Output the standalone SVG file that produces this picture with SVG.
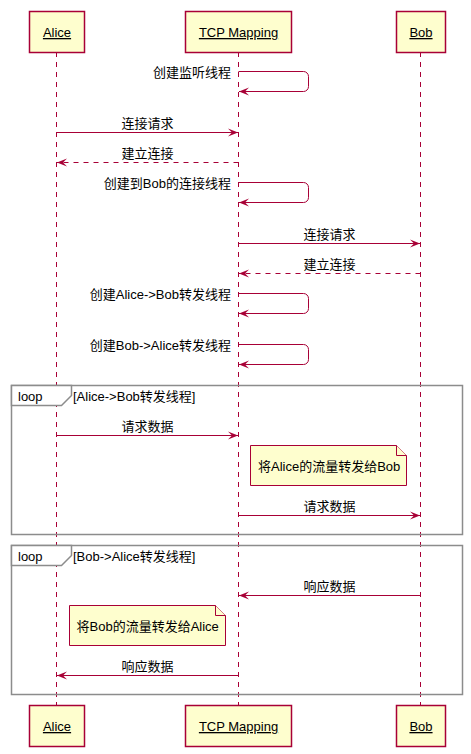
<svg xmlns="http://www.w3.org/2000/svg" width="471" height="754" viewBox="0 0 471 754">
<style>
text{font-family:"Liberation Sans","Noto Sans CJK SC",sans-serif;font-size:13px;fill:#000}
.box{fill:#FEFECE;stroke:#A80036;stroke-width:1.5}
.pt{text-anchor:middle;text-decoration:underline;font-size:13px}
.life{stroke:#A80036;stroke-width:1;stroke-dasharray:5,5;fill:none}
.msg{stroke:#A80036;stroke-width:1;fill:none;marker-end:url(#ah)}
.dash{stroke-dasharray:5,5}
.mid{text-anchor:middle}
.end{text-anchor:end}
.frame{fill:none;stroke:#8C8C8C;stroke-width:1.5}
.tab{fill:#FFFFFF;stroke:#8C8C8C;stroke-width:1.5}
.note{fill:#FEFECE;stroke:#A80036;stroke-width:1}
</style>
<defs>
<marker id="ah" markerUnits="userSpaceOnUse" markerWidth="11" markerHeight="9" refX="10" refY="4" orient="auto" overflow="visible">
<path d="M0,0 L10,4 L0,8 L4,4 Z" fill="#A80036"/>
</marker>
</defs>
<g id="lifelines">
<line class="life" x1="56.5" y1="52" x2="56.5" y2="705"/>
<line class="life" x1="238.5" y1="52" x2="238.5" y2="705"/>
<line class="life" x1="420.5" y1="52" x2="420.5" y2="705"/>
</g>
<g id="loop1">
<rect class="frame" x="11.5" y="385.5" width="451" height="149"/>
<path class="tab" d="M11.5,385.5 H71.5 V395.5 L61.5,405.5 H11.5 Z"/>
<text x="18" y="400.5">loop</text>
<text x="73" y="400.5">[Alice-&gt;Bob转发线程]</text>
</g>
<g id="loop2">
<rect class="frame" x="11.5" y="545.5" width="451" height="149"/>
<path class="tab" d="M11.5,545.5 H71.5 V555.5 L61.5,565.5 H11.5 Z"/>
<text x="18" y="560.5">loop</text>
<text x="73" y="560.5">[Bob-&gt;Alice转发线程]</text>
</g>
<g id="alice_top"><rect class="box" x="29.5" y="11.5" width="55" height="41"/><text class="pt" x="57" y="37">Alice</text></g>
<g id="tcp_top"><rect class="box" x="185.5" y="11.5" width="106" height="41"/><text class="pt" x="238.5" y="37">TCP Mapping</text></g>
<g id="bob_top"><rect class="box" x="396.5" y="11.5" width="49" height="41"/><text class="pt" x="421" y="37">Bob</text></g>
<g id="alice_bottom"><rect class="box" x="29.5" y="705.5" width="55" height="41"/><text class="pt" x="57" y="731">Alice</text></g>
<g id="tcp_bottom"><rect class="box" x="185.5" y="705.5" width="106" height="41"/><text class="pt" x="238.5" y="731">TCP Mapping</text></g>
<g id="bob_bottom"><rect class="box" x="396.5" y="705.5" width="49" height="41"/><text class="pt" x="421" y="731">Bob</text></g>
<g id="note1"><path class="note" d="M250.5,445.5 H396.5 L406.5,455.5 V485.5 H250.5 Z"/><path class="note" d="M396.5,445.5 V455.5 H406.5"/><text x="258" y="470.5">将Alice的流量转发给Bob</text></g>
<g id="note2"><path class="note" d="M69.5,605.5 H215.5 L225.5,615.5 V645.5 H69.5 Z"/><path class="note" d="M215.5,605.5 V615.5 H225.5"/><text x="76.5" y="631">将Bob的流量转发给Alice</text></g>
<g id="connectors">
<path class="msg" d="M238.5,71.5 H303.5 A5,5 0 0 1 308.5,76.5 V86.5 A5,5 0 0 1 303.5,91.5 H239"/>
<text class="end" x="231" y="76.5">创建监听线程</text>
<path class="msg" d="M56.5,132.5 H238"/>
<text class="mid" x="147.5" y="127.5">连接请求</text>
<path class="msg dash" d="M238.5,162.5 H57"/>
<text class="mid" x="147.5" y="157.5">建立连接</text>
<path class="msg" d="M238.5,182.5 H303.5 A5,5 0 0 1 308.5,187.5 V197.5 A5,5 0 0 1 303.5,202.5 H239"/>
<text class="end" x="231" y="187.5">创建到Bob的连接线程</text>
<path class="msg" d="M238.5,243.5 H420"/>
<text class="mid" x="329.5" y="238.5">连接请求</text>
<path class="msg dash" d="M420.5,273.5 H239"/>
<text class="mid" x="329.5" y="268.5">建立连接</text>
<path class="msg" d="M238.5,293.5 H303.5 A5,5 0 0 1 308.5,298.5 V308.5 A5,5 0 0 1 303.5,313.5 H239"/>
<text class="end" x="231" y="298.5">创建Alice-&gt;Bob转发线程</text>
<path class="msg" d="M238.5,344.5 H303.5 A5,5 0 0 1 308.5,349.5 V359.5 A5,5 0 0 1 303.5,364.5 H239"/>
<text class="end" x="231" y="349.5">创建Bob-&gt;Alice转发线程</text>
<path class="msg" d="M56.5,435.5 H238"/>
<text class="mid" x="147.5" y="430.5">请求数据</text>
<path class="msg" d="M238.5,515.5 H420"/>
<text class="mid" x="329.5" y="510.5">请求数据</text>
<path class="msg" d="M420.5,595.5 H239"/>
<text class="mid" x="329.5" y="590.5">响应数据</text>
<path class="msg" d="M238.5,675.5 H57"/>
<text class="mid" x="147.5" y="670.5">响应数据</text>
</g>
</svg>
